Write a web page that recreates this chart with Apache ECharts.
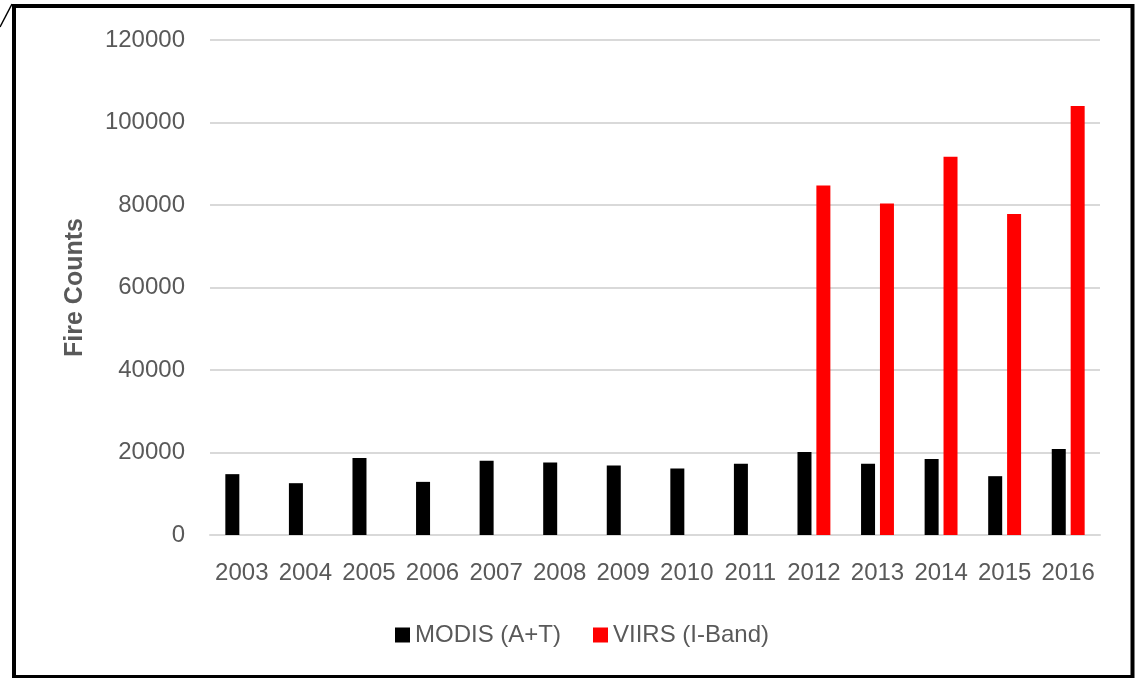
<!DOCTYPE html>
<html>
<head>
<meta charset="utf-8">
<script src="https://cdn.jsdelivr.net/npm/echarts@6/dist/echarts.min.js"></script>
<style>
  html, body { margin: 0; padding: 0; background: #fff; }
  #main { width: 1140px; height: 678px; }
</style>
</head>
<body>
<div id="main"></div>
<script>
  // data
  var years = ['2003', '2004', '2005', '2006', '2007', '2008', '2009', '2010', '2011', '2012', '2013', '2014', '2015', '2016'];
  var modis = [14750, 12560, 18640, 12880, 17980, 17570, 16840, 16110, 17250, 20100, 17250, 18400, 14260, 20830];
  var viirs = [null, null, null, null, null, null, null, null, null, 84740, 80360, 91690, 77840, 104010];
  var seriesNames = ['MODIS (A+T)', 'VIIRS (I-Band)'];

  var textColor = '#595959';
  var font = 'Liberation Sans';

  var chart = echarts.init(document.getElementById('main'));

  var option = {
    backgroundColor: '#fff',
    animation: false,
    grid: {
      left: 210,
      right: 40,
      top: 40,
      bottom: 143
    },
    legend: {
      left: 390,
      top: 618,
      itemWidth: 15,
      itemHeight: 15,
      itemGap: 32,
      icon: 'rect',
      textStyle: { color: textColor, fontSize: 24, fontFamily: font },
      data: seriesNames
    },
    xAxis: {
      type: 'category',
      data: years,
      axisLine: { show: true, lineStyle: { color: '#d9d9d9', width: 2 } },
      axisTick: { show: false },
      axisLabel: { color: textColor, fontSize: 24, fontFamily: font, margin: 26, interval: 0 }
    },
    yAxis: {
      type: 'value',
      min: 0,
      max: 120000,
      interval: 20000,
      name: 'Fire Counts',
      nameLocation: 'middle',
      nameGap: 122,
      nameTextStyle: { color: textColor, fontSize: 25, fontWeight: 'bold', fontFamily: font },
      axisLine: { show: false },
      axisTick: { show: false },
      axisLabel: {
        color: textColor, fontSize: 24, fontFamily: font, margin: 25,
        formatter: function (v) { return String(v); }
      },
      splitLine: { lineStyle: { color: '#d9d9d9', width: 2 } }
    },
    series: [
      {
        name: seriesNames[0],
        type: 'bar',
        data: modis,
        barWidth: 14,
        barGap: '35%',
        itemStyle: { color: '#000000' }
      },
      {
        name: seriesNames[1],
        type: 'bar',
        data: viirs,
        barWidth: 14,
        barGap: '35%',
        itemStyle: { color: '#ff0000' }
      }
    ],
    graphic: [
      {
        type: 'rect',
        shape: { x: 14, y: 6, width: 1118.5, height: 671 },
        style: { fill: 'none', stroke: '#000', lineWidth: 4 },
        z: 100
      },
      {
        type: 'line',
        shape: { x1: 0, y1: 27, x2: 12, y2: 4 },
        style: { stroke: '#000', lineWidth: 1.5 },
        z: 100
      }
    ]
  };

  chart.setOption(option);
</script>
</body>
</html>
